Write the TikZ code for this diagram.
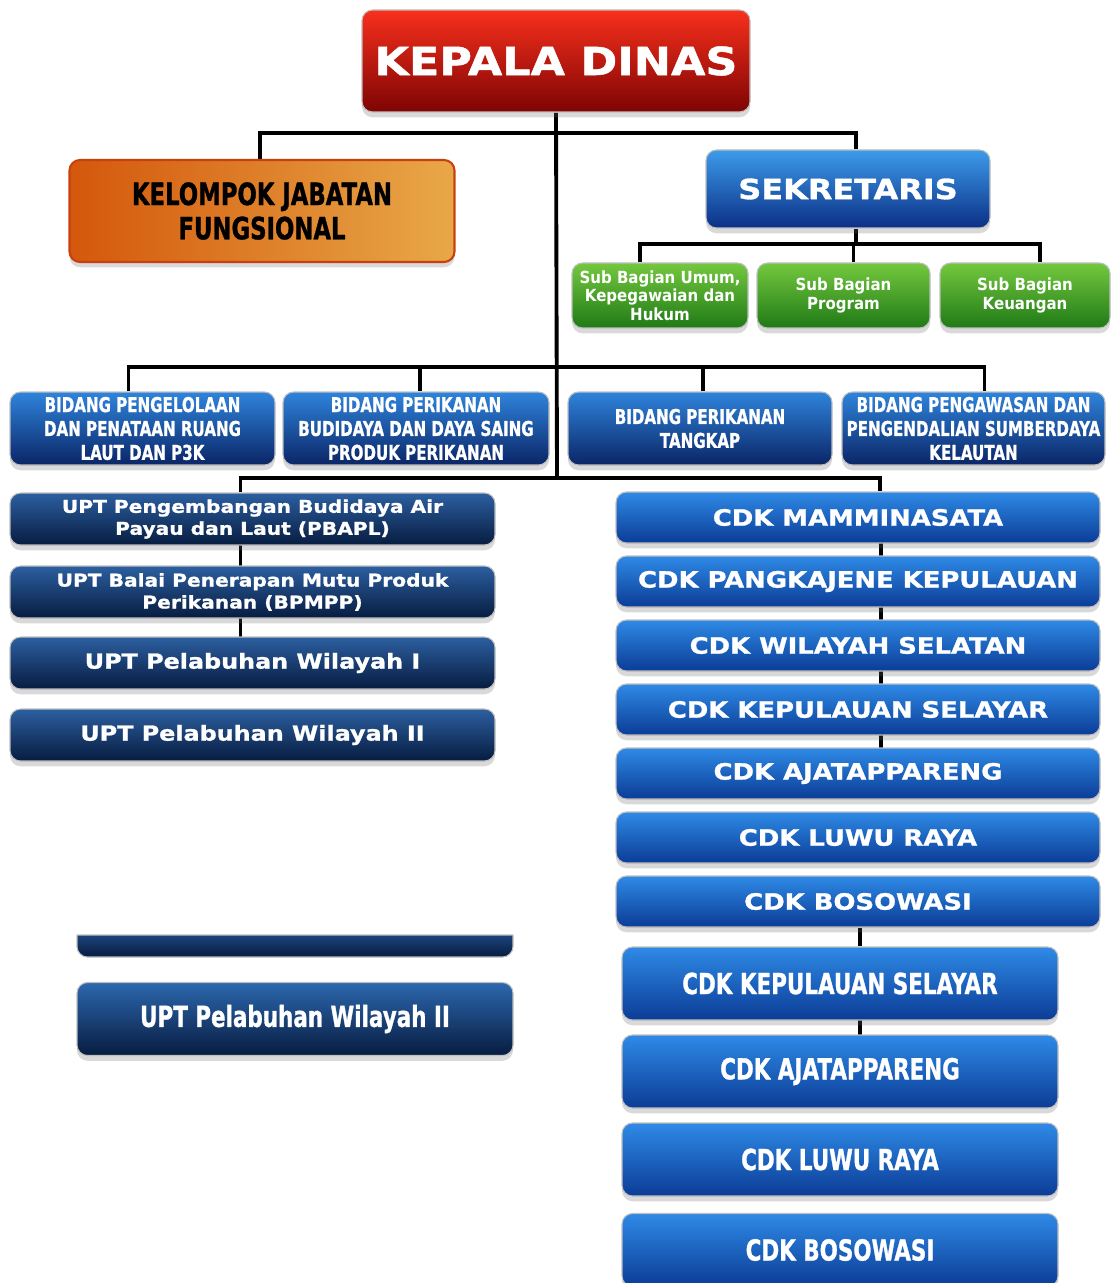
\documentclass[tikz,border=0pt]{standalone}
\usepackage{fontspec}
\newfontfamily\widefont[FakeStretch=1.15,FakeBold=1.2]{DejaVu Sans}
\newfontfamily\narrowfont[FakeStretch=0.74,FakeBold=1]{DejaVu Sans}
\newfontfamily\condfont[FakeStretch=0.9]{DejaVu Sans}
\usepackage{tikz}
\usetikzlibrary{shadows,backgrounds}
\definecolor{redtop}{HTML}{F8301C}
\definecolor{redbot}{HTML}{7E0404}
\definecolor{orleft}{HTML}{D4570C}
\definecolor{orright}{HTML}{E8A848}
\definecolor{orline}{HTML}{C84010}
\definecolor{sektop}{HTML}{3C9BEA}
\definecolor{sekbot}{HTML}{0B2F86}
\definecolor{grtop}{HTML}{74C83E}
\definecolor{grbot}{HTML}{1F7A16}
\definecolor{bidtop}{HTML}{2F84DC}
\definecolor{bidbot}{HTML}{0A2566}
\definecolor{upttop}{HTML}{2C5FA0}
\definecolor{uptbot}{HTML}{071C40}
\definecolor{cdktop}{HTML}{2E8AE6}
\definecolor{cdkbot}{HTML}{0B3C96}
\newcommand\pxu{0.02cm}
\tikzset{
  link/.style={line width=2.2pt,black},
  box/.style={rounded corners=6pt,draw=black!25,line width=0.6pt,align=center,inner sep=0pt,text=white,
    drop shadow={opacity=0.25,shadow xshift=0pt,shadow yshift=-3pt,fill=black!60}},
  redbox/.style={box,top color=redtop,bottom color=redbot},
  orbox/.style={box,draw=orline,line width=1.2pt,left color=orleft,right color=orright,text=black},
  sekbox/.style={box,top color=sektop,bottom color=sekbot},
  grbox/.style={box,top color=grtop,bottom color=grbot,minimum height=65*\pxu},
  bidbox/.style={box,top color=bidtop,bottom color=bidbot,minimum height=73*\pxu},
  uptbox/.style={box,top color=upttop,bottom color=uptbot,minimum width=485*\pxu,minimum height=52*\pxu},
  cdkbox/.style={box,top color=cdktop,bottom color=cdkbot,minimum width=484*\pxu,minimum height=51*\pxu,
    font=\widefont\bfseries\fontsize{12.8}{15}\selectfont},
  bigbox/.style={box,top color=cdktop,bottom color=cdkbot,minimum width=436*\pxu,minimum height=73*\pxu,
    font=\narrowfont\bfseries\fontsize{16.5}{20}\selectfont}
}
\begin{document}
\begin{tikzpicture}[x=0.02cm,y=-0.02cm,line cap=round,line join=round]
\useasboundingbox (0,0) rectangle (1112,1283);

\node[redbox,minimum width=388*\pxu,minimum height=102*\pxu,font=\widefont\bfseries\fontsize{22}{26}\selectfont] (kepala) at (556,61) {KEPALA DINAS};
\node[orbox,minimum width=385*\pxu,minimum height=102*\pxu,font=\narrowfont\bfseries\fontsize{17.5}{19.5}\selectfont] (kjf) at (262,211) {KELOMPOK JABATAN\\FUNGSIONAL};
\node[sekbox,minimum width=284*\pxu,minimum height=78*\pxu,font=\widefont\bfseries\fontsize{15.8}{18}\selectfont] (sek) at (848,189) {SEKRETARIS};

\node[grbox,minimum width=176*\pxu,font=\condfont\bfseries\fontsize{9.5}{10.5}\selectfont] (sbumum) at (660,295.5) {Sub Bagian Umum,\\Kepegawaian dan\\Hukum};
\node[grbox,minimum width=173*\pxu,font=\condfont\bfseries\fontsize{9.5}{10.5}\selectfont] (sbprog) at (843.5,295.5) {Sub Bagian\\Program};
\node[grbox,minimum width=170*\pxu,font=\condfont\bfseries\fontsize{9.5}{10.5}\selectfont] (sbkeu) at (1025,295.5) {Sub Bagian\\Keuangan};

\node[bidbox,minimum width=265*\pxu,font=\narrowfont\bfseries\fontsize{11.6}{13.6}\selectfont] (bid1) at (142.5,428.5) {BIDANG PENGELOLAAN\\DAN PENATAAN RUANG\\LAUT DAN P3K};
\node[bidbox,minimum width=266*\pxu,font=\narrowfont\bfseries\fontsize{11.6}{13.6}\selectfont] (bid2) at (416,428.5) {BIDANG PERIKANAN\\BUDIDAYA DAN DAYA SAING\\PRODUK PERIKANAN};
\node[bidbox,minimum width=264*\pxu,font=\narrowfont\bfseries\fontsize{11.6}{13.6}\selectfont] (bid3) at (700,428.5) {BIDANG PERIKANAN\\TANGKAP};
\node[bidbox,minimum width=263*\pxu,font=\narrowfont\bfseries\fontsize{11.6}{13.6}\selectfont] (bid4) at (973.5,428.5) {BIDANG PENGAWASAN DAN\\PENGENDALIAN SUMBERDAYA\\KELAUTAN};

\node[uptbox,font=\widefont\bfseries\fontsize{10}{12.5}\selectfont] (upt1) at (252.5,519) {UPT Pengembangan Budidaya Air\\Payau dan Laut (PBAPL)};
\node[uptbox,font=\widefont\bfseries\fontsize{10}{12.5}\selectfont] (upt2) at (252.5,592) {UPT Balai Penerapan Mutu Produk\\Perikanan (BPMPP)};
\node[uptbox,font=\widefont\bfseries\fontsize{11.8}{14}\selectfont] (upt3) at (252.5,663) {UPT Pelabuhan Wilayah I};
\node[uptbox,font=\widefont\bfseries\fontsize{11.8}{14}\selectfont] (upt4) at (252.5,735) {UPT Pelabuhan Wilayah II};

\node[cdkbox] (cdk1) at (858,517.5) {CDK MAMMINASATA};
\node[cdkbox] (cdk2) at (858,581.5) {CDK PANGKAJENE KEPULAUAN};
\node[cdkbox] (cdk3) at (858,645.5) {CDK WILAYAH SELATAN};
\node[cdkbox] (cdk4) at (858,709.5) {CDK KEPULAUAN SELAYAR};
\node[cdkbox] (cdk5) at (858,773.5) {CDK AJATAPPARENG};
\node[cdkbox] (cdk6) at (858,837.5) {CDK LUWU RAYA};
\node[cdkbox] (cdk7) at (858,901.5) {CDK BOSOWASI};

\shade[top color=upttop!60!uptbot,bottom color=uptbot,draw=black!25,line width=0.6pt] (513,935) -- (77,935) [rounded corners=6pt] -- (77,957) -- (513,957) -- (513,935);
\node[bigbox,top color=upttop!80!cdktop,bottom color=uptbot] (uptb) at (295,1019) {UPT Pelabuhan Wilayah II};

\node[bigbox] (cdkb1) at (840,983.5) {CDK KEPULAUAN SELAYAR};
\node[bigbox] (cdkb2) at (840,1071.5) {CDK AJATAPPARENG};
\node[bigbox] (cdkb3) at (840,1159.5) {CDK LUWU RAYA};
\node[bigbox] (cdkb4) at (840,1250) {CDK BOSOWASI};

\begin{scope}[on background layer]
\coordinate (topbus) at (557,133);
\coordinate (subbus) at (856,244);
\coordinate (midbus) at (557,367);
\coordinate (lowbus) at (557,478);
\draw[link] (kepala.south) -- (lowbus);
\draw[link] ([xshift=-2*\pxu]kjf.north) |- (topbus) -| ([xshift=8*\pxu]sek.north);
\draw[link] ([xshift=8*\pxu]sek.south) -- (subbus);
\draw[link] ([xshift=-20*\pxu]sbumum.north) |- (subbus) -| ([xshift=15*\pxu]sbkeu.north);
\draw[link] ([xshift=10*\pxu]sbprog.north) -- ([xshift=10*\pxu]sbprog.north |- subbus);
\draw[link] ([xshift=-14*\pxu]bid1.north) |- (midbus) -| ([xshift=11*\pxu]bid4.north);
\draw[link] ([xshift=4*\pxu]bid2.north) -- ([xshift=4*\pxu]bid2.north |- midbus);
\draw[link] ([xshift=3*\pxu]bid3.north) -- ([xshift=3*\pxu]bid3.north |- midbus);
\draw[link] ([xshift=-12*\pxu]upt1.north) |- (lowbus) -| ([xshift=22*\pxu]cdk1.north);
\draw[link] ([xshift=-12*\pxu]upt1.center) -- ([xshift=-12*\pxu]upt3.center);
\draw[link] ([xshift=23*\pxu]cdk1.center) -- ([xshift=23*\pxu]cdk5.center);
\draw[link] ([xshift=20*\pxu]cdkb1.north) -- ([xshift=20*\pxu]cdkb1.north |- cdk7.south);
\draw[link] ([xshift=20*\pxu]cdkb1.center) -- ([xshift=20*\pxu]cdkb2.center);
\end{scope}
\end{tikzpicture}
\end{document}
